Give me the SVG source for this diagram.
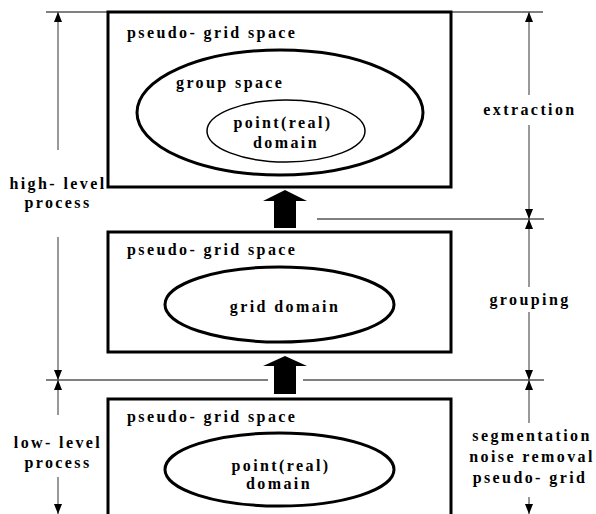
<svg xmlns="http://www.w3.org/2000/svg" width="596" height="514" viewBox="0 0 596 514">
<style>
.box{fill:none;stroke:#000;stroke-width:3}
.ell{fill:none;stroke:#000;stroke-width:3}
.ell2{fill:none;stroke:#000;stroke-width:1.5}
.t{font-family:"Liberation Serif","Times New Roman",serif;font-weight:bold;font-size:16px;letter-spacing:2.4px;fill:#000}
.c{text-anchor:middle}
.h{stroke:#000;stroke-width:1;fill:none}
.v{stroke:#555;stroke-width:1.2;fill:none;marker-end:url(#ah)}
.blk{fill:#000}
</style>
<defs>
<marker id="ah" viewBox="0 0 10 8" refX="10" refY="4" markerWidth="10" markerHeight="8" markerUnits="userSpaceOnUse" orient="auto">
<path d="M0,0 L10,4 L0,8 Z" fill="#000"/>
</marker>
</defs>
<g id="connectors">
<line class="h" x1="46" y1="12" x2="543" y2="12"/>
<line class="h" x1="317" y1="219" x2="544" y2="219"/>
<line class="h" x1="46" y1="380" x2="268" y2="380"/>
<line class="h" x1="303" y1="380" x2="544" y2="380"/>
<line class="v" x1="58" y1="150" x2="58" y2="12"/>
<line class="v" x1="58" y1="237" x2="58" y2="380"/>
<line class="v" x1="58" y1="415" x2="58" y2="380"/>
<line class="v" x1="58" y1="477" x2="58" y2="514"/>
<line class="v" x1="529" y1="95" x2="529" y2="12"/>
<line class="v" x1="529" y1="125" x2="529" y2="219"/>
<line class="v" x1="529" y1="287" x2="529" y2="219"/>
<line class="v" x1="529" y1="312" x2="529" y2="380"/>
<line class="v" x1="529" y1="423" x2="529" y2="380"/>
<line class="v" x1="529" y1="497" x2="529" y2="514"/>
<polygon class="blk" points="285,190 307,201 296,201 296,228 274,228 274,201 263,201"/>
<polygon class="blk" points="285,356 307,366 296,366 296,394 274,394 274,366 263,366"/>
</g>
<g id="top-box">
<rect class="box" x="108" y="12" width="343" height="175"/>
<text class="t" x="127" y="38">pseudo- grid space</text>
</g>
<g id="group-space">
<ellipse class="ell" cx="280" cy="112.5" rx="143" ry="62.5"/>
<text class="t" x="176" y="88">group space</text>
</g>
<g id="top-point-domain">
<ellipse class="ell2" cx="286" cy="131" rx="79" ry="31"/>
<text class="t c" x="283" y="128">point(real)</text>
<text class="t c" x="286" y="148">domain</text>
</g>
<g id="middle-box">
<rect class="box" x="108" y="232" width="343" height="120"/>
<text class="t" x="127" y="255">pseudo- grid space</text>
</g>
<g id="grid-domain">
<ellipse class="ell" cx="279.5" cy="304.5" rx="114.5" ry="37.5"/>
<text class="t c" x="285" y="312">grid domain</text>
</g>
<g id="bottom-box">
<rect class="box" x="108" y="399" width="343" height="130"/>
<text class="t" x="127" y="422">pseudo- grid space</text>
</g>
<g id="bottom-point-domain">
<ellipse class="ell" cx="279.5" cy="469.5" rx="114.5" ry="36.5"/>
<text class="t c" x="281" y="471">point(real)</text>
<text class="t c" x="279" y="489">domain</text>
</g>
<g id="labels">
<text class="t c" x="530" y="115">extraction</text>
<text class="t c" x="530" y="305">grouping</text>
<text class="t c" x="58" y="189">high- level</text>
<text class="t c" x="58" y="208">process</text>
<text class="t c" x="58" y="448">low- level</text>
<text class="t c" x="58" y="468">process</text>
<text class="t c" x="532" y="441">segmentation</text>
<text class="t c" x="532" y="462">noise removal</text>
<text class="t c" x="530" y="483">pseudo- grid</text>
</g>
</svg>
